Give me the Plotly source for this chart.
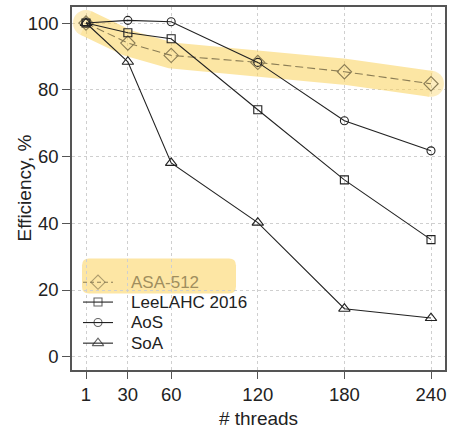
import plotly.graph_objects as go

threads = [1, 30, 60, 120, 180, 240]
asa512 = [100, 94.0, 90.3, 88.2, 85.4, 81.8]
leelahc = [100, 97.1, 95.3, 74.0, 53.0, 35.1]
aos = [100, 100.8, 100.4, 88.2, 70.7, 61.7]
soa = [100, 88.4, 58.1, 40.2, 14.4, 11.6]
series_names = ["ASA-512", "LeeLAHC 2016", "AoS", "SoA"]
x_ticks = [1, 30, 60, 120, 180, 240]
y_ticks = [0, 20, 40, 60, 80, 100]

W, H = 453, 433
ML, MR, MT, MB = 72, 8, 5, 63
PW, PH = W - ML - MR, H - MT - MB

def px2paper(px, py):
    return (px - ML) / PW, (H - MB - py) / PH

dark = "#222222"
olive_line = "#8b7d55"
olive_text = "#a08e5e"
band = "#fbd25a"

styles = [
    dict(color=olive_line, dash="8px,4px", symbol="diamond-open", size=11),
    dict(color=dark, dash="solid", symbol="square-open", size=8),
    dict(color=dark, dash="solid", symbol="circle-open", size=8),
    dict(color=dark, dash="solid", symbol="triangle-up-open", size=10),
]
values = [asa512, leelahc, aos, soa]

fig = go.Figure()

# highlight band behind ASA-512
fig.add_trace(go.Scatter(
    x=threads, y=asa512, mode="lines+markers",
    line=dict(color=band, width=26),
    marker=dict(size=[26, 0, 0, 0, 0, 26], color=band, line=dict(width=0)),
    opacity=0.55, showlegend=False, hoverinfo="skip"))

for name, vals, st in zip(series_names, values, styles):
    fig.add_trace(go.Scatter(
        x=threads, y=vals, mode="lines+markers", name=name, showlegend=False,
        line=dict(color=st["color"], width=1.1, dash=st["dash"]),
        marker=dict(symbol=st["symbol"], size=st["size"], color=st["color"],
                    line=dict(width=1.1, color=st["color"]))))

# manual legend on a pixel-space overlay axis
row_y = [281.7, 301.7, 322.3, 343.0]
for name, st, ry in zip(series_names, styles, row_y):
    fig.add_trace(go.Scatter(
        x=[83, 98, 113], y=[ry, ry, ry], xaxis="x2", yaxis="y2",
        mode="lines+markers", showlegend=False, hoverinfo="skip",
        line=dict(color=st["color"], width=1.1, dash=st["dash"] if st["dash"] == "solid" else "4px,3px"),
        marker=dict(symbol=st["symbol"], size=[0, st["size"], 0], color=st["color"],
                    line=dict(width=1.1, color=st["color"]))))

annotations = []
for name, st, ry in zip(series_names, styles, row_y):
    annotations.append(dict(
        x=129, y=ry, xref="x2", yref="y2", text=name, showarrow=False,
        xanchor="left", yanchor="middle",
        font=dict(size=17, color=olive_text if name == "ASA-512" else dark)))

tx, ty = px2paper(24, 187.5)
annotations.append(dict(x=tx, y=ty, xref="paper", yref="paper", text="Efficiency, %",
                        textangle=-90, showarrow=False, xanchor="center", yanchor="middle",
                        font=dict(size=19, color=dark)))

# white legend background (covers grid)
bx0, by0 = px2paper(72, 368)
bx1, by1 = px2paper(255, 253)
shapes = [dict(type="rect", xref="paper", yref="paper", x0=bx0, y0=by0, x1=bx1, y1=by1,
               fillcolor="white", line=dict(width=0), layer="between")]

# rounded highlight rectangle behind ASA-512 legend entry
rx0, ry0, rx1, ry1, r = 82, 258, 236, 293, 7
def P(px, py):
    a, b = px2paper(px, py)
    return f"{a:.5f},{b:.5f}"
path = (f"M {P(rx0 + r, ry0)} L {P(rx1 - r, ry0)} Q {P(rx1, ry0)} {P(rx1, ry0 + r)} "
        f"L {P(rx1, ry1 - r)} Q {P(rx1, ry1)} {P(rx1 - r, ry1)} "
        f"L {P(rx0 + r, ry1)} Q {P(rx0, ry1)} {P(rx0, ry1 - r)} "
        f"L {P(rx0, ry0 + r)} Q {P(rx0, ry0)} {P(rx0 + r, ry0)} Z")
shapes.append(dict(type="path", xref="paper", yref="paper", path=path,
                   fillcolor="rgba(251,210,90,0.55)", line=dict(width=0), layer="between"))

fig.update_layout(
    width=W, height=H,
    margin=dict(l=ML, r=MR, t=MT, b=MB),
    paper_bgcolor="white", plot_bgcolor="white",
    font=dict(family="Liberation Sans, Arial, sans-serif", color=dark),
    shapes=shapes, annotations=annotations,
    showlegend=False,
    xaxis=dict(range=[-8.7, 249.7], tickvals=x_ticks, ticktext=[str(t) for t in x_ticks],
               showline=True, mirror=True, linecolor="#555555", linewidth=1.5,
               ticks="outside", ticklen=7, tickcolor="#555555", tickwidth=1,
               tickfont=dict(size=18.5), showgrid=True, gridcolor="#cfcfcf",
               griddash="dot", gridwidth=1, zeroline=False,
               title=dict(text="# threads", font=dict(size=19), standoff=8)),
    yaxis=dict(range=[-3.97, 104.8], tickvals=y_ticks,
               showline=True, mirror=True, linecolor="#555555", linewidth=1.5,
               ticks="outside", ticklen=8, tickcolor="#555555", tickwidth=1,
               tickfont=dict(size=18.5), showgrid=True, gridcolor="#cfcfcf",
               griddash="dot", gridwidth=1, zeroline=False),
    xaxis2=dict(overlaying="x", range=[ML, W - MR], visible=False, fixedrange=True),
    yaxis2=dict(overlaying="y", range=[H - MB, MT], visible=False, fixedrange=True),
)

fig.write_html("out.html")
